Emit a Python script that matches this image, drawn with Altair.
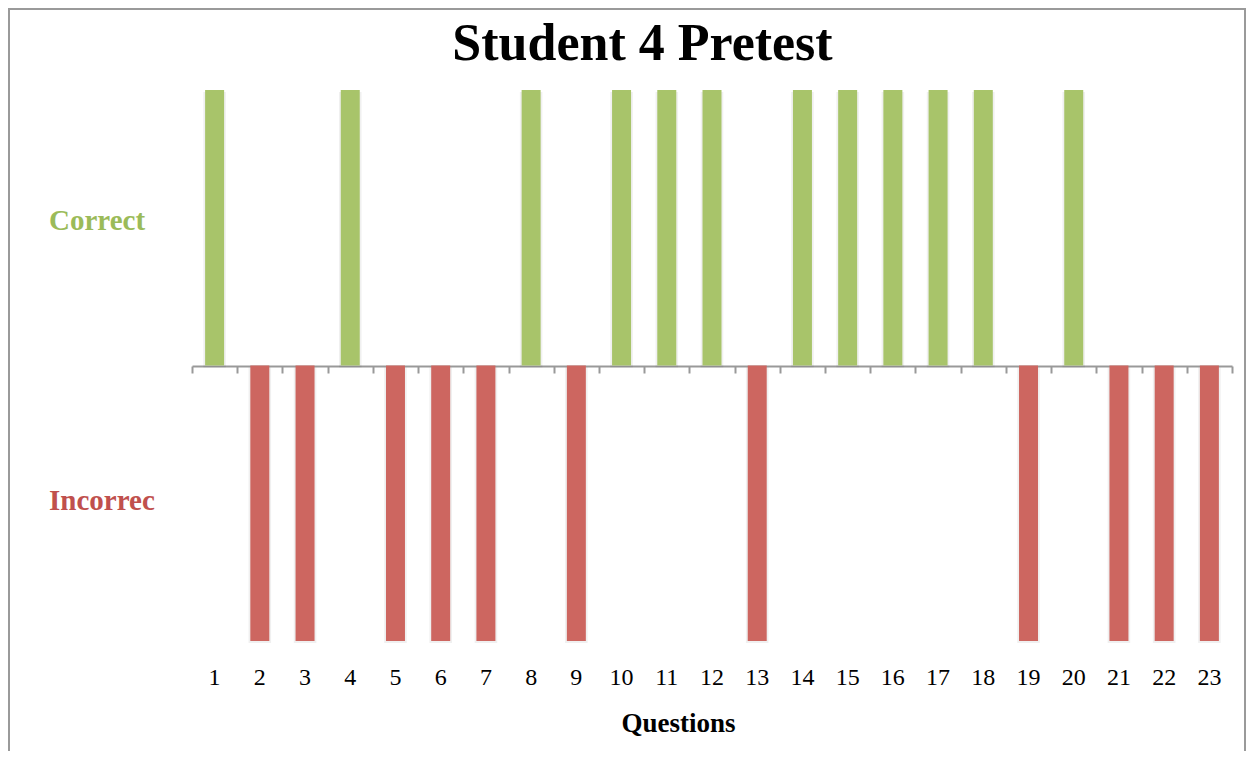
import altair as alt
import pandas as pd

questions = [str(i) for i in range(1, 24)]
results = [1, -1, -1, 1, -1, -1, -1, 1, -1, 1, 1, 1, -1, 1, 1, 1, 1, 1, -1, 1, -1, -1, -1]
status = ["Correct" if r > 0 else "Incorrect" for r in results]

df = pd.DataFrame({"q": questions, "v": results, "status": status})

FONT = "Liberation Serif"
GREEN_BAR = "#A8C46A"
RED_BAR = "#CD6660"
GREEN_TXT = "#9BBB59"
RED_TXT = "#C0504D"

xscale = alt.Scale(paddingInner=0, paddingOuter=0)
yscale = alt.Scale(domain=[-1, 1], nice=False)

base = alt.Chart(df)

shadow = base.mark_bar(width={"band": 0.5}, color="#000000", opacity=0.06, yOffset=2).encode(
    x=alt.X("q:O", sort=questions, scale=xscale,
            axis=alt.Axis(orient="bottom", title=None, labels=False, domain=False,
                          ticks=False, grid=False)),
    y=alt.Y("v:Q", scale=yscale, axis=None),
)

bars = base.mark_bar(width={"band": 0.42}).encode(
    x=alt.X("q:O", sort=questions, scale=xscale,
            axis=alt.Axis(orient="bottom", title=None, labelFont=FONT, labelFontSize=24,
                          labelColor="#000000", labelAngle=0, labelBaseline="alphabetic",
                          labelPadding=43, domain=False, ticks=False, tickSize=0, grid=False)),
    y=alt.Y("v:Q", scale=yscale, axis=None),
    color=alt.Color("status:N", scale=alt.Scale(domain=["Correct", "Incorrect"],
                                                range=[GREEN_BAR, RED_BAR]), legend=None),
)

zero_axis = base.mark_bar(opacity=0).encode(
    x=alt.X("q:O", sort=questions, scale=xscale,
            axis=alt.Axis(orient="bottom", title=None, labels=False, domain=True,
                          domainColor="#999999", domainWidth=2, ticks=True,
                          tickColor="#999999", tickWidth=2, tickSize=7,
                          tickBand="extent", grid=False, offset=-275)),
)

one = alt.Chart(pd.DataFrame({"a": [0]}))

frame = one.mark_rect(fillOpacity=0, stroke="#9A9A9A", strokeWidth=2).encode(
    x=alt.value(-183), x2=alt.value(1053), y=alt.value(-81), y2=alt.value(720)
)

title = one.mark_text(text="Student 4 Pretest", font=FONT, fontSize=52, fontWeight="bold",
                      align="center", baseline="alphabetic", color="#000000").encode(
    x=alt.value(450.5), y=alt.value(-30))

lab_c = one.mark_text(text="Correct", font=FONT, fontSize=29, fontWeight="bold",
                      align="left", baseline="alphabetic", color=GREEN_TXT).encode(
    x=alt.value(-143), y=alt.value(140))

lab_i = one.mark_text(text="Incorrec", font=FONT, fontSize=29, fontWeight="bold",
                      align="left", baseline="alphabetic", color=RED_TXT).encode(
    x=alt.value(-143), y=alt.value(420))

xtitle = one.mark_text(text="Questions", font=FONT, fontSize=27, fontWeight="bold",
                       align="center", baseline="alphabetic", color="#000000").encode(
    x=alt.value(486.5), y=alt.value(642))

chart = alt.layer(frame, shadow, zero_axis, bars, title, lab_c, lab_i, xtitle).resolve_axis(
    x="independent"
).properties(
    width=1040, height=551,
    autosize=alt.AutoSizeParams(type="none"),
    padding={"left": 184, "top": 82, "right": 14, "bottom": 110},
).configure_view(stroke="transparent")

chart.save("out.html", embed_options={"renderer": "svg", "actions": False})
